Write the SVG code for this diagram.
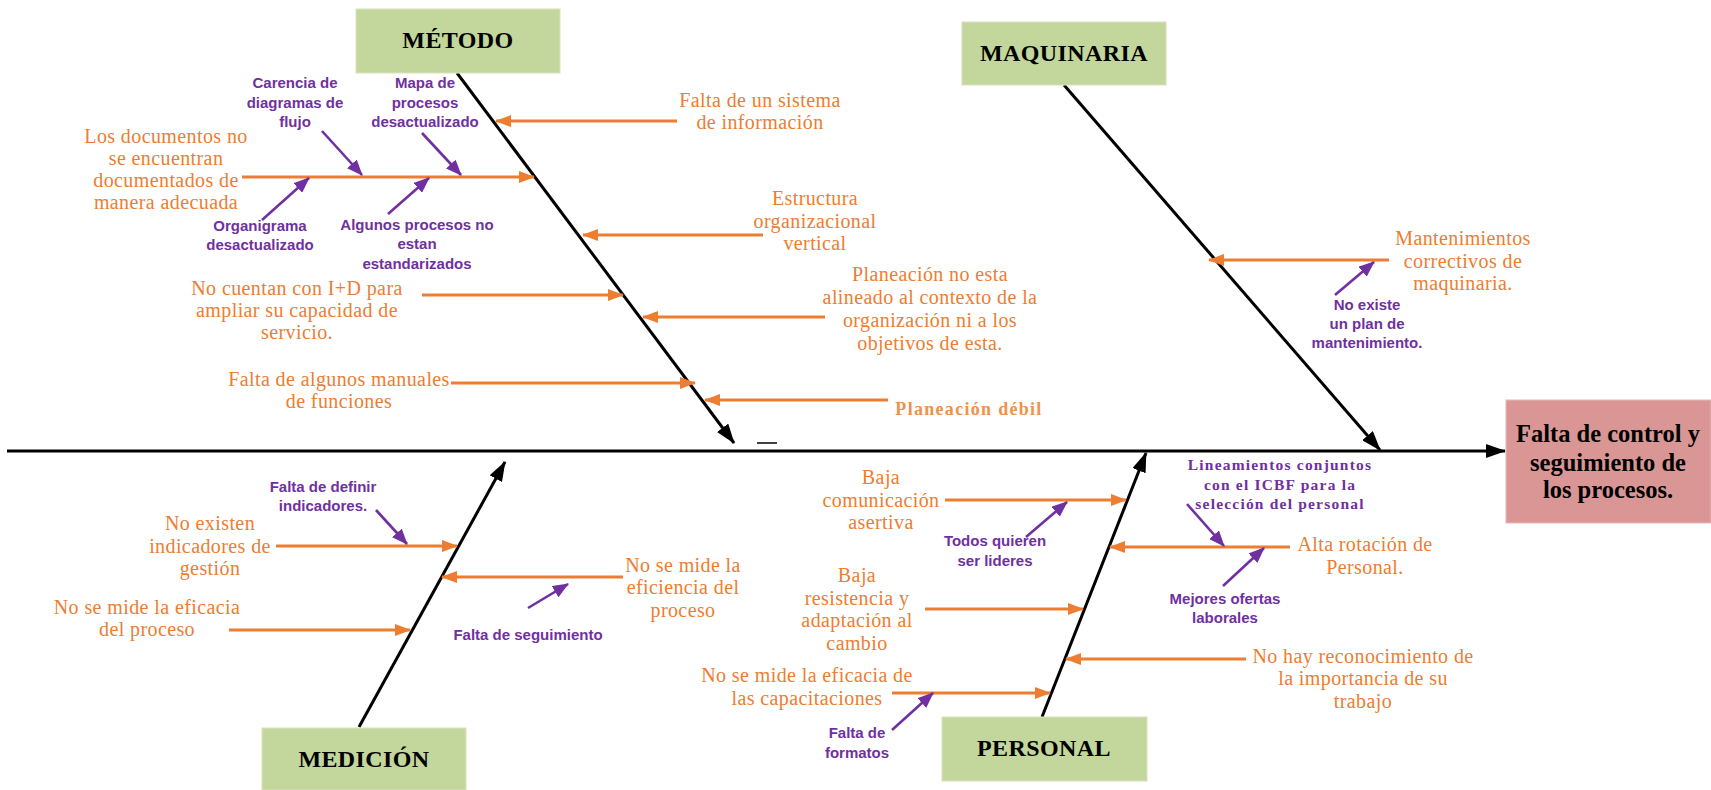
<svg xmlns="http://www.w3.org/2000/svg" width="1711" height="790" viewBox="0 0 1711 790">
<style>
.box{fill:#c3d69b;stroke:#d8e4bc;stroke-width:1}
.eff{fill:#d99694;stroke:#e6b9b8;stroke-width:1}
.lbl{font-family:"Liberation Serif","Times New Roman",serif;font-weight:bold;font-size:24px;fill:#000;text-anchor:middle;letter-spacing:0.4px}
.o{font-family:"Liberation Serif","Times New Roman",serif;font-size:20px;fill:#ed7d31;text-anchor:middle;letter-spacing:0.4px}
.ob{font-family:"Liberation Serif","Times New Roman",serif;font-size:18px;font-weight:bold;fill:#f0914a;text-anchor:middle;letter-spacing:1.3px}
.p{font-family:"Liberation Sans",Arial,sans-serif;font-size:15px;font-weight:bold;fill:#7030a0;text-anchor:middle}
.ps{font-family:"Liberation Serif","Times New Roman",serif;font-size:15.5px;font-weight:bold;fill:#7030a0;text-anchor:middle;letter-spacing:1.2px}
.bk{stroke:#000;stroke-width:3;fill:none;marker-end:url(#mb)}
.or{stroke:#ed7d31;stroke-width:3;fill:none;marker-end:url(#mo)}
.pu{stroke:#7030a0;stroke-width:2.6;fill:none;marker-end:url(#mp)}
</style>
<defs>
<marker id="mb" markerUnits="userSpaceOnUse" markerWidth="20" markerHeight="14" refX="19" refY="7" orient="auto"><path d="M0,0 L20,7 L0,14 z" fill="#000"/></marker>
<marker id="mo" markerUnits="userSpaceOnUse" markerWidth="16" markerHeight="12" refX="15" refY="6" orient="auto"><path d="M0,0 L16,6 L0,12 z" fill="#ed7d31"/></marker>
<marker id="mp" markerUnits="userSpaceOnUse" markerWidth="16" markerHeight="13" refX="15" refY="6.5" orient="auto"><path d="M0,0 L16,6.5 L0,13 z" fill="#7030a0"/></marker>
</defs>
<rect width="1711" height="790" fill="#fff"/>

<g id="connectors">
<line class="bk" x1="7" y1="451" x2="1505" y2="451"/>
<line class="bk" x1="457" y1="73" x2="734" y2="443"/>
<line class="bk" x1="1064" y1="85" x2="1380" y2="450"/>
<line class="bk" x1="359" y1="727" x2="505" y2="462"/>
<line class="bk" x1="1042" y1="717" x2="1146" y2="453"/>
<line x1="757" y1="443" x2="777" y2="443" stroke="#000" stroke-width="1.5"/>

<line class="or" x1="677" y1="121" x2="496" y2="121"/>
<line class="or" x1="242" y1="177" x2="534" y2="177"/>
<line class="or" x1="763" y1="235" x2="583" y2="235"/>
<line class="or" x1="422" y1="295" x2="623" y2="295"/>
<line class="or" x1="825" y1="317" x2="643" y2="317"/>
<line class="or" x1="451" y1="383" x2="695" y2="383"/>
<line class="or" x1="888" y1="400" x2="705" y2="400"/>
<line class="or" x1="1389" y1="260" x2="1209" y2="260"/>
<line class="or" x1="276" y1="546" x2="457" y2="546"/>
<line class="or" x1="623" y1="577" x2="442" y2="577"/>
<line class="or" x1="229" y1="630" x2="410" y2="630"/>
<line class="or" x1="945" y1="500" x2="1126" y2="500"/>
<line class="or" x1="1290" y1="547" x2="1110" y2="547"/>
<line class="or" x1="925" y1="609" x2="1083" y2="609"/>
<line class="or" x1="1246" y1="659" x2="1066" y2="659"/>
<line class="or" x1="892" y1="693" x2="1050" y2="693"/>

<line class="pu" x1="322" y1="131" x2="362" y2="175"/>
<line class="pu" x1="422" y1="133" x2="461" y2="175"/>
<line class="pu" x1="262" y1="220" x2="309" y2="178"/>
<line class="pu" x1="388" y1="214" x2="429" y2="178"/>
<line class="pu" x1="1335" y1="295" x2="1374" y2="262"/>
<line class="pu" x1="376" y1="510" x2="407" y2="544"/>
<line class="pu" x1="528" y1="608" x2="568" y2="584"/>
<line class="pu" x1="1026" y1="537" x2="1067" y2="502"/>
<line class="pu" x1="1187" y1="504" x2="1224" y2="546"/>
<line class="pu" x1="1223" y1="586" x2="1264" y2="548"/>
<line class="pu" x1="892" y1="730" x2="933" y2="693"/>
</g>

<g id="metodo"><rect class="box" x="356" y="9" width="204" height="64"/><text class="lbl" x="458" y="48">MÉTODO</text></g>
<g id="maquinaria"><rect class="box" x="962" y="22" width="204" height="63"/><text class="lbl" x="1064" y="61">MAQUINARIA</text></g>
<g id="medicion"><rect class="box" x="262" y="728" width="204" height="62"/><text class="lbl" x="364" y="767">MEDICIÓN</text></g>
<g id="personal"><rect class="box" x="942" y="717" width="205" height="64"/><text class="lbl" x="1044" y="756">PERSONAL</text></g>
<g id="efecto"><rect class="eff" x="1506" y="400" width="205" height="123"/>
<text class="lbl" style="font-size:24.5px;letter-spacing:0" x="1608" y="442">Falta de control y</text>
<text class="lbl" style="font-size:24.5px;letter-spacing:0" x="1608" y="471">seguimiento de</text>
<text class="lbl" style="font-size:24.5px;letter-spacing:0" x="1608" y="498">los procesos.</text></g>

<g id="c-documentos"><text class="o" x="166" y="143">Los documentos no</text><text class="o" x="166" y="165">se encuentran</text><text class="o" x="166" y="187">documentados de</text><text class="o" x="166" y="209">manera adecuada</text></g>
<g id="c-sistema"><text class="o" x="760" y="107">Falta de un sistema</text><text class="o" x="760" y="129">de información</text></g>
<g id="c-estructura"><text class="o" x="815" y="205">Estructura</text><text class="o" x="815" y="228">organizacional</text><text class="o" x="815" y="250">vertical</text></g>
<g id="c-id"><text class="o" x="297" y="295">No cuentan con I+D para</text><text class="o" x="297" y="317">ampliar su capacidad de</text><text class="o" x="297" y="339">servicio.</text></g>
<g id="c-planeacion"><text class="o" x="930" y="281">Planeación no esta</text><text class="o" x="930" y="304">alineado al contexto de la</text><text class="o" x="930" y="327">organización ni a los</text><text class="o" x="930" y="350">objetivos de esta.</text></g>
<g id="c-manuales"><text class="o" x="339" y="386">Falta de algunos manuales</text><text class="o" x="339" y="408">de funciones</text></g>
<g id="c-debil"><text class="ob" x="969" y="415">Planeación débil</text></g>
<g id="c-mantenimientos"><text class="o" x="1463" y="245">Mantenimientos</text><text class="o" x="1463" y="268">correctivos de</text><text class="o" x="1463" y="290">maquinaria.</text></g>
<g id="c-indicadores"><text class="o" x="210" y="530">No existen</text><text class="o" x="210" y="553">indicadores de</text><text class="o" x="210" y="575">gestión</text></g>
<g id="c-eficiencia"><text class="o" x="683" y="572">No se mide la</text><text class="o" x="683" y="594">eficiencia del</text><text class="o" x="683" y="617">proceso</text></g>
<g id="c-eficacia"><text class="o" x="147" y="614">No se mide la eficacia</text><text class="o" x="147" y="636">del proceso</text></g>
<g id="c-comunicacion"><text class="o" x="881" y="484">Baja</text><text class="o" x="881" y="507">comunicación</text><text class="o" x="881" y="529">asertiva</text></g>
<g id="c-rotacion"><text class="o" x="1365" y="551">Alta rotación de</text><text class="o" x="1365" y="574">Personal.</text></g>
<g id="c-resistencia"><text class="o" x="857" y="582">Baja</text><text class="o" x="857" y="605">resistencia y</text><text class="o" x="857" y="627">adaptación al</text><text class="o" x="857" y="650">cambio</text></g>
<g id="c-reconocimiento"><text class="o" x="1363" y="663">No hay reconocimiento de</text><text class="o" x="1363" y="685">la importancia de su</text><text class="o" x="1363" y="708">trabajo</text></g>
<g id="c-capacitaciones"><text class="o" x="807" y="682">No se mide la eficacia de</text><text class="o" x="807" y="705">las capacitaciones</text></g>

<g id="s-carencia"><text class="p" x="295" y="88">Carencia de</text><text class="p" x="295" y="108">diagramas de</text><text class="p" x="295" y="127">flujo</text></g>
<g id="s-mapa"><text class="p" x="425" y="88">Mapa de</text><text class="p" x="425" y="108">procesos</text><text class="p" x="425" y="127">desactualizado</text></g>
<g id="s-organigrama"><text class="p" x="260" y="231">Organigrama</text><text class="p" x="260" y="250">desactualizado</text></g>
<g id="s-algunos"><text class="p" x="417" y="230">Algunos procesos no</text><text class="p" x="417" y="249">estan</text><text class="p" x="417" y="269">estandarizados</text></g>
<g id="s-plan"><text class="p" x="1367" y="310">No existe</text><text class="p" x="1367" y="329">un plan de</text><text class="p" x="1367" y="348">mantenimiento.</text></g>
<g id="s-definir"><text class="p" x="323" y="492">Falta de definir</text><text class="p" x="323" y="511">indicadores.</text></g>
<g id="s-seguimiento"><text class="p" x="528" y="640">Falta de seguimiento</text></g>
<g id="s-lideres"><text class="p" x="995" y="546">Todos quieren</text><text class="p" x="995" y="566">ser lideres</text></g>
<g id="s-ofertas"><text class="p" x="1225" y="604">Mejores ofertas</text><text class="p" x="1225" y="623">laborales</text></g>
<g id="s-formatos"><text class="p" x="857" y="738">Falta de</text><text class="p" x="857" y="758">formatos</text></g>
<g id="s-lineamientos"><text class="ps" x="1280" y="470">Lineamientos conjuntos</text><text class="ps" x="1280" y="490">con el ICBF para la</text><text class="ps" x="1280" y="509">selección del personal</text></g>
</svg>
